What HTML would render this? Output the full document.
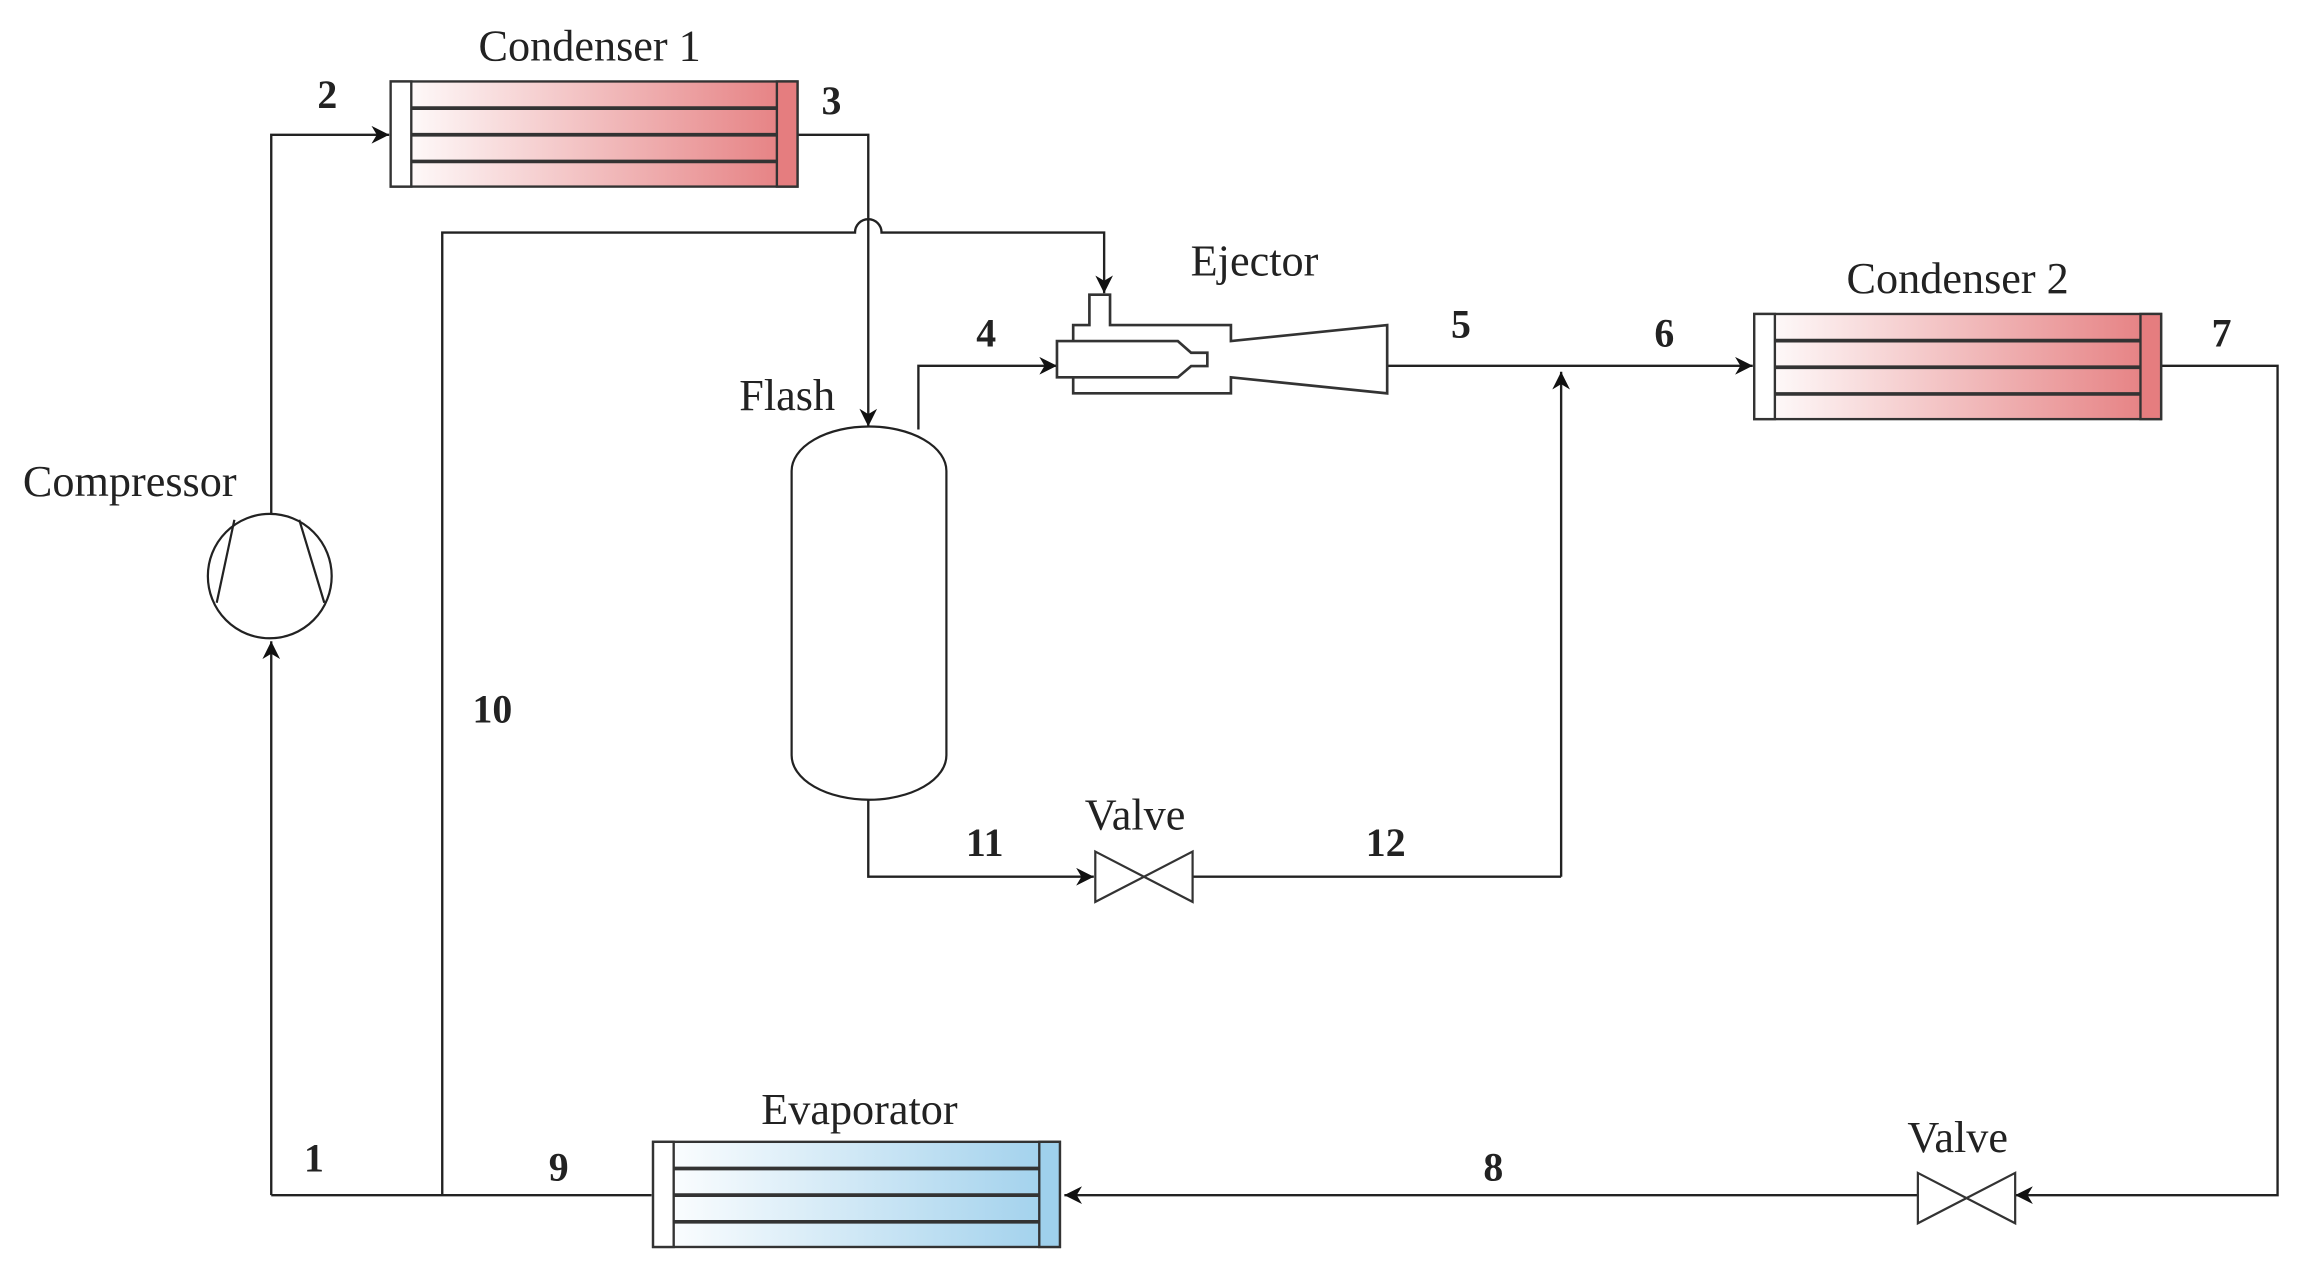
<!DOCTYPE html>
<html><head><meta charset="utf-8"><style>html,body{margin:0;padding:0;background:#fff}svg{display:block}text{font-family:"Liberation Serif",serif;fill:#222}</style></head>
<body>
<svg width="2310" height="1284" viewBox="0 0 1567 867" preserveAspectRatio="none" xmlns="http://www.w3.org/2000/svg">
<defs>
<linearGradient id="red" x1="0" x2="1" y1="0" y2="0"><stop offset="0" stop-color="#fff"/><stop offset="1" stop-color="#e57d7f"/></linearGradient>
<linearGradient id="blue" x1="0" x2="1" y1="0" y2="0"><stop offset="0" stop-color="#fff"/><stop offset="1" stop-color="#9fd0ec"/></linearGradient>
<marker id="a2" viewBox="0 0 10 10" refX="10" refY="5" markerWidth="12" markerHeight="12" orient="auto" markerUnits="userSpaceOnUse"><path d="M0,0 L10,5 L0,10 L3,5 Z" fill="#111"/></marker>
</defs>
<g fill="none" stroke="#222" stroke-width="1.6">
<polyline points="184,347 184,91 264,91" marker-end="url(#a2)"/>
<polyline points="184,807 184,433" marker-end="url(#a2)"/>
<line x1="184" y1="807" x2="442" y2="807"/>
<path d="M300,807 L300,157 L580,157 A9,9 0 0 1 598,157 L749,157 L749,198" marker-end="url(#a2)"/>
<polyline points="541,91 589,91 589,288" marker-end="url(#a2)"/>
<polyline points="623,290 623,247 717,247" marker-end="url(#a2)"/>
<polyline points="941,247 1189,247" marker-end="url(#a2)"/>
<polyline points="1059,592 1059,251" marker-end="url(#a2)"/>
<polyline points="1466,247 1545,247 1545,807 1367,807" marker-end="url(#a2)"/>
<polyline points="1301,807 722,807" marker-end="url(#a2)"/>
<polyline points="589,540 589,592 742,592" marker-end="url(#a2)"/>
<line x1="808" y1="592" x2="1059" y2="592"/>
</g>
<g fill="none" stroke="#222" stroke-width="1.5">
<ellipse cx="183" cy="389" rx="42" ry="42" fill="#fff"/>
<line x1="159" y1="351" x2="147" y2="407"/>
<line x1="203" y1="351" x2="220" y2="407"/>
</g>
<g stroke="#333" stroke-width="1.6">
<rect x="265" y="55" width="276" height="71" fill="url(#red)"/>
<rect x="265" y="55" width="14" height="71" fill="#fff"/>
<rect x="527" y="55" width="14" height="71" fill="#e57d7f"/>
<line x1="279" y1="73" x2="527" y2="73" stroke-width="2.5"/>
<line x1="279" y1="91" x2="527" y2="91" stroke-width="2.5"/>
<line x1="279" y1="109" x2="527" y2="109" stroke-width="2.5"/>
</g>
<g stroke="#333" stroke-width="1.6">
<rect x="1190" y="212" width="276" height="71" fill="url(#red)"/>
<rect x="1190" y="212" width="14" height="71" fill="#fff"/>
<rect x="1452" y="212" width="14" height="71" fill="#e57d7f"/>
<line x1="1204" y1="230" x2="1452" y2="230" stroke-width="2.5"/>
<line x1="1204" y1="248" x2="1452" y2="248" stroke-width="2.5"/>
<line x1="1204" y1="266" x2="1452" y2="266" stroke-width="2.5"/>
</g>
<g stroke="#333" stroke-width="1.6">
<rect x="443" y="771" width="276" height="71" fill="url(#blue)"/>
<rect x="443" y="771" width="14" height="71" fill="#fff"/>
<rect x="705" y="771" width="14" height="71" fill="#9fd0ec"/>
<line x1="457" y1="789" x2="705" y2="789" stroke-width="2.5"/>
<line x1="457" y1="807" x2="705" y2="807" stroke-width="2.5"/>
<line x1="457" y1="825" x2="705" y2="825" stroke-width="2.5"/>
</g>
<path d="M537,318 A52.5,30 0 0 1 642,318 L642,510 A52.5,30 0 0 1 537,510 Z" fill="#fff" stroke="#222" stroke-width="1.5"/>
<g fill="#fff" stroke="#333" stroke-width="1.8">
<path d="M728,219.5 L739,219.5 L739,199 L753,199 L753,219.5 L835,219.5 L835,230.3 L941,219.5 L941,265.6 L835,254.8 L835,265.6 L728,265.6 Z"/>
<path d="M717,230.3 L799,230.3 L808,238.2 L819,238.2 L819,247.2 L808,247.2 L799,254.8 L717,254.8 Z"/>
</g>
<g fill="#fff" stroke="#333" stroke-width="1.5">
<path d="M743,575 L809,609 L809,575 L743,609 Z"/>
<path d="M1301,792 L1367,826 L1367,792 L1301,826 Z"/>
</g>
<g font-size="30">
<text x="400" y="41" text-anchor="middle">Condenser 1</text>
<text x="1328" y="198" text-anchor="middle">Condenser 2</text>
<text x="851" y="186" text-anchor="middle">Ejector</text>
<text x="534" y="277" text-anchor="middle">Flash</text>
<text x="88" y="335" text-anchor="middle">Compressor</text>
<text x="770" y="560" text-anchor="middle">Valve</text>
<text x="1328" y="778" text-anchor="middle">Valve</text>
<text x="583" y="759" text-anchor="middle">Evaporator</text>
</g>
<g font-size="27" font-weight="bold" text-anchor="middle">
<text x="222" y="73">2</text>
<text x="564" y="77">3</text>
<text x="669" y="234">4</text>
<text x="991" y="228">5</text>
<text x="1129" y="234">6</text>
<text x="1507" y="234">7</text>
<text x="1013" y="797">8</text>
<text x="379" y="797">9</text>
<text x="213" y="791">1</text>
<text x="334" y="488">10</text>
<text x="668" y="578">11</text>
<text x="940" y="578">12</text>
</g>
</svg>
</body></html>
